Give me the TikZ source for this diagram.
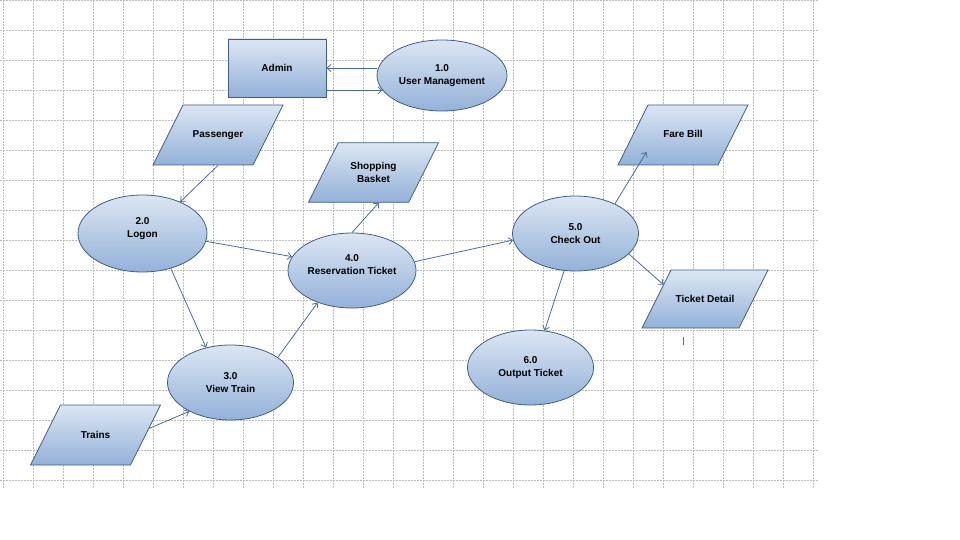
\documentclass[tikz,border=0pt]{standalone}
\usepackage{fontspec}
\setmainfont{Liberation Sans}
\usetikzlibrary{shapes.geometric, arrows.meta, calc}
\definecolor{BoxTop}{HTML}{DCE6F2}
\definecolor{BoxBottom}{HTML}{93B1D9}
\definecolor{BoxEdge}{HTML}{3D5F8C}
\definecolor{FlowLine}{HTML}{4A6C9B}
\definecolor{GridLine}{HTML}{BDBDBD}

\begin{document}
\begin{tikzpicture}[x=1pt, y=-1pt,
    every node/.style={font=\fontsize{10}{13}\selectfont\bfseries, align=center, inner sep=0pt},
    shaded/.style={draw=BoxEdge, line width=0.8pt, top color=BoxTop, bottom color=BoxBottom},
    process/.style={shaded, ellipse, minimum width=126, minimum height=75},
    entity/.style={shaded, rectangle, minimum width=98, minimum height=58},
    datastore/.style={shaded, trapezium, trapezium left angle=63.4, trapezium right angle=116.6,
        trapezium stretches body, text height=8pt, text depth=2pt, inner ysep=25pt, minimum width=130},
    flow/.style={draw=FlowLine, line width=0.8pt, -{Straight Barb[length=4pt, width=7pt]}},
    gridline/.style={GridLine, line width=0.6pt, dash pattern=on 2pt off 1pt}]
    \useasboundingbox (0,0) rectangle (960,540);

    % Grid
    \foreach \gx in {3,33,...,813}
        \draw[gridline] (\gx,0) -- (\gx,488);
    \foreach \gy in {0,30,...,480}
        \draw[gridline] (0,\gy) -- (818,\gy);

    % Entities and processes
    \node[entity] (admin) at (277,68) {Admin};
    \node[process, minimum width=130, minimum height=71] (usermgmt) at (442,75.5) {1.0\\User Management};
    \node[datastore] (passenger) at (218,135) {Passenger};
    \node[process, minimum width=129, minimum height=77, text depth=12pt] (logon) at (142.5,233.5) {2.0\\Logon};
    \node[process] (viewtrain) at (230.5,382.5) {3.0\\View Train};
    \node[datastore] (trains) at (95.5,435) {Trains};
    \node[process, minimum width=128, text depth=12pt] (reserve) at (352,270.5) {4.0\\Reservation Ticket};
    \node[datastore, text height=, text depth=, inner ysep=19.6pt] (basket) at (373.5,172.5) {Shopping\\Basket};
    \node[process] (checkout) at (575.5,233.5) {5.0\\Check Out};
    \node[datastore] (farebill) at (683,135) {Fare Bill};
    \node[datastore, inner ysep=24pt, minimum width=126] (ticketdetail) at (705,299) {Ticket Detail};
    \node[process] (output) at (530.5,367.5) {6.0\\Output Ticket};

    % Data flows
    \draw[flow] (usermgmt.west |- admin.east) -- (admin.east);
    \draw[flow] (admin.east |- usermgmt.194) -- (usermgmt.194);
    \draw[flow] (passenger.270) -- (logon.40);
    \draw[flow] (logon.-7) -- (reserve.167);
    \draw[flow] (logon.-51) -- (viewtrain.125);
    \draw[flow] (viewtrain.28) -- (reserve.223);
    \draw[flow] (trains.7) -- (viewtrain.215);
    \draw[flow] (reserve.north) -- (basket.-80);
    \draw[flow] (reserve.8) -- (checkout.186);
    \draw[flow] (checkout.37) -- ($(farebill.center)+(-36.5,17)$);
    \draw[flow] (checkout.-21) -- (ticketdetail.161);
    \draw[flow] (checkout.-107) -- (output.69);

    % Stray mark under Ticket Detail
    \draw[FlowLine, line width=0.8pt] (683,337) -- (683,345);
\end{tikzpicture}
\end{document}
